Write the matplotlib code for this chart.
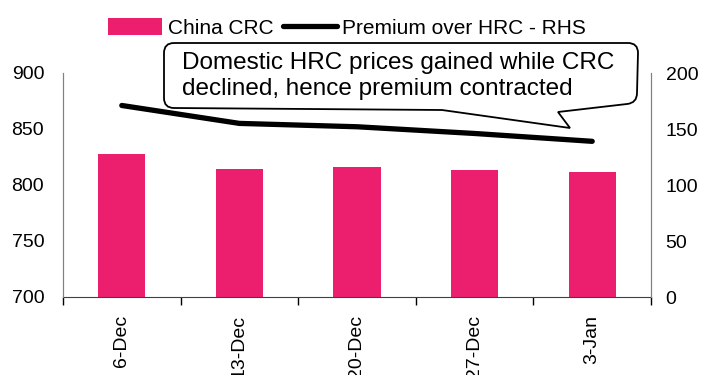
import matplotlib
matplotlib.use("Agg")
import matplotlib.pyplot as plt
import numpy as np
from matplotlib.path import Path
from matplotlib.patches import PathPatch, Patch
from matplotlib.lines import Line2D
from matplotlib.transforms import Affine2D

weeks = ['6-Dec', '13-Dec', '20-Dec', '27-Dec', '3-Jan']
crc = [828, 814, 816, 813, 812]
premium = [171, 155, 152, 146, 139]

plt.rcParams['font.family'] = ['Liberation Sans', 'DejaVu Sans']
pink = '#EC1F6F'

W, H = 702, 375
fig = plt.figure(figsize=(W / 100, H / 100), dpi=100)
ax = fig.add_axes([63 / W, 1 - 297 / H, (651 - 63) / W, (297 - 73) / H])
ax2 = ax.twinx()

x = np.arange(len(weeks))
ax.bar(x, crc, width=0.4, color=pink, zorder=2)
ax2.plot(x, premium, color='black', lw=3.8, solid_capstyle='round', zorder=3)

ax.set_xlim(-0.5, len(weeks) - 0.5)
ax.set_ylim(700, 900)
ax.set_yticks([700, 750, 800, 850, 900])
ax2.set_ylim(0, 200)
ax2.set_yticks([0, 50, 100, 150, 200])

ax.set_xticks(x)
ax.set_xticklabels(weeks, rotation=90, fontsize=14)
ax.set_xticks(np.arange(len(weeks) + 1) - 0.5, minor=True)
ax.tick_params(axis='x', which='major', length=0, pad=13)
ax.tick_params(axis='x', which='minor', length=6, width=1, color='black', direction='out')
ax.tick_params(axis='y', length=0, labelsize=14, pad=13.5)
ax2.tick_params(axis='y', length=0, labelsize=14, pad=10.5)

for a in (ax, ax2):
    a.spines['top'].set_visible(False)
    a.spines['left'].set_color('#808080')
    a.spines['right'].set_color('#808080')
    a.spines['bottom'].set_color('#404040')
ax2.spines['bottom'].set_visible(False)
ax2.patch.set_visible(False)

handles = [Patch(facecolor=pink, edgecolor='none'),
           Line2D([0], [0], color='black', lw=3.8, solid_capstyle='round')]
fig.legend(handles, ['China CRC', 'Premium over HRC - RHS'], loc='center',
           bbox_to_anchor=(347 / W, 1 - 28 / H), ncol=2, frameon=False, fontsize=15,
           handlelength=2.6, handleheight=0.9, handletextpad=0.25, columnspacing=0.45)

# speech bubble drawn in pixel space (origin top-left)
r = 10
pts = [
    (164 + r, 43), (638 - r, 43), (638, 43), (638, 43 + r),
    (637, 103 - r), (637, 103), (637 - r, 104),
    (558, 112), (570, 128), (442, 110),
    (164 + r, 108), (164, 108), (164, 108 - r),
    (164, 43 + r), (164, 43), (164 + r, 43),
]
codes = [Path.MOVETO, Path.LINETO, Path.CURVE3, Path.CURVE3,
         Path.LINETO, Path.CURVE3, Path.CURVE3,
         Path.LINETO, Path.LINETO, Path.LINETO,
         Path.LINETO, Path.CURVE3, Path.CURVE3,
         Path.LINETO, Path.CURVE3, Path.CURVE3]
px = Affine2D().scale(1 / W, -1 / H).translate(0, 1) + fig.transFigure
bubble = PathPatch(Path(pts, codes), facecolor='white', edgecolor='black',
                   lw=1.3, transform=px, zorder=10)
fig.patches.append(bubble)
fig.text(182 / W, 1 - 76 / H, 'Domestic HRC prices gained while CRC\ndeclined, hence premium contracted',
         fontsize=17.5, ha='left', va='center', linespacing=1.2, zorder=11)

plt.savefig('out.png', dpi=100)
plt.close()
